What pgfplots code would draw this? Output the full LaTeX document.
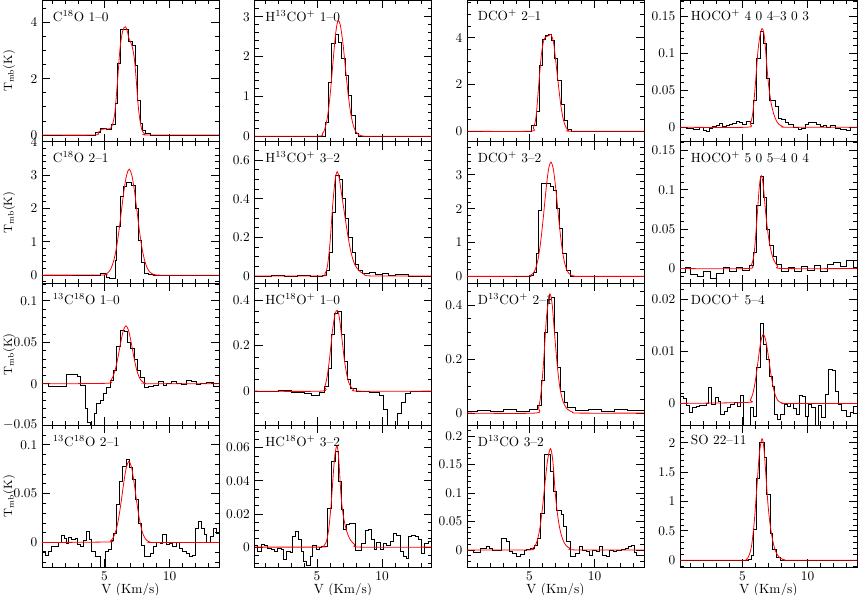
\documentclass[border=0pt]{standalone}
\usepackage{pgfplots}
\pgfplotsset{compat=1.18}
\pgfplotsset{
  panel/.style={width=132.75pt, height=106.3125pt, scale only axis, anchor=south west,
    xmin=0.2, xmax=13.8, xtick={5,10}, minor xtick={1,2,3,4,6,7,8,9,11,12,13},
    xticklabels={}, tick align=inside, major tick length=6pt, minor tick length=3pt,
    every tick/.style={line width=0.6pt, black},
    axis line style={line width=0.7pt},
    scaled y ticks=false, scaled x ticks=false,
    yticklabel style={/pgf/number format/fixed, /pgf/number format/precision=3},
    every axis y label/.style={at={(rel axis cs:-0.125,0.5)}, rotate=90, anchor=south, font=\small},
    xlabel style={yshift=5pt},
  },
  spec/.style={black, line width=0.55pt, const plot mark left, no marks},
  fit/.style={red, line width=0.6pt, smooth, no marks},
  bottom/.style={xticklabels={5,10}, xlabel={V (Km/s)}},
  left/.style={ylabel={T$_{\rm mb}$(K)}},
}
\newcommand{\panel}[5]{%
\begin{axis}[panel, at={(#1)}, #2]
\addplot[spec] coordinates {#4};
\addplot[fit] coordinates {#5};
\node[anchor=north west, inner sep=0pt] at (rel axis cs:0.06,0.93) {#3};
\end{axis}}
\begin{document}
\begin{tikzpicture}
\path[use as bounding box] (0,0) rectangle (643.5pt,446.25pt);
% ---------------- row 1
\panel{31.5pt,339.9375pt}{left, ymin=-0.24, ymax=4.8, ytick={0,2,4}, minor ytick={0.5,1,...,4.5}}{C$^{18}$O 1--0}
{(0.2,0)(4.27,0.1)(4.66,0.23)(5.17,0.2)(5.55,0.38)(5.81,1.12)(5.99,2.55)(6.25,3.76)(6.84,3.32)(7.17,3.2)(7.35,2.49)(7.53,1.24)(7.73,0.4)(7.94,0.17)(8.14,0.05)(8.5,0)(13.8,0)}
{(0.2,0)(4.2,0)(4.5,0.08)(4.8,0.2)(5.1,0.22)(5.4,0.22)(5.6,0.35)(5.8,0.8)(6.0,1.9)(6.2,3.1)(6.4,3.7)(6.6,3.85)(6.75,3.7)(6.9,3.4)(7.1,3.2)(7.3,2.7)(7.45,1.9)(7.6,1.0)(7.75,0.45)(7.9,0.15)(8.1,0.04)(8.4,0)(13.8,0)}
\panel{190.875pt,339.9375pt}{ymin=-0.14, ymax=3.42, ytick={0,1,2,3}, minor ytick={0.2,0.4,...,3.4}}{H$^{13}$CO$^+$ 1--0}
{(0.2,0)(5.62,0.34)(5.87,1.34)(6.13,2.33)(6.39,2.56)(6.64,2.35)(6.9,1.95)(7.15,1.53)(7.41,1.03)(7.66,0.52)(7.92,0.07)(8.17,0)(13.8,0)}
{(0.2,0)(5.0,0)(5.4,0.056)(5.6,0.18)(5.8,0.47)(6.0,1.0)(6.2,1.74)(6.4,2.48)(6.55,2.83)(6.65,2.9)(6.8,2.78)(7.0,2.32)(7.2,1.67)(7.4,1.04)(7.6,0.56)(7.8,0.26)(8.0,0.106)(8.2,0.037)(8.5,0.005)(9,0)(13.8,0)}
\panel{350.25pt,339.9375pt}{ymin=-0.45, ymax=5.62, ytick={0,2,4}, minor ytick={0.5,1,...,5.5}}{DCO$^+$ 2--1}
{(0.2,0)(5.17,0.26)(5.5,0.83)(5.76,2.83)(6.02,3.93)(6.2,4.11)(6.45,4.14)(6.71,3.9)(6.91,3.11)(7.17,2.19)(7.42,1.16)(7.68,0.47)(7.94,0.07)(8.25,0)(13.8,0)}
{(0.2,0)(5.0,0)(5.3,0.15)(5.5,0.6)(5.7,1.9)(5.9,3.2)(6.1,3.9)(6.3,4.05)(6.5,4.1)(6.65,4.15)(6.85,3.8)(7.0,3.1)(7.2,2.1)(7.4,1.15)(7.6,0.5)(7.8,0.17)(8.0,0.04)(8.3,0)(13.8,0)}
\panel{510pt,339.9375pt}{ymin=-0.0196, ymax=0.172, ytick={0,0.05,0.1,0.15}, minor ytick={-0.01,0,...,0.17}}{HOCO$^+$ 4 0 4--3 0 3}
{(0.2,0)(0.71,-0.002)(1.22,-0.003)(1.69,0.0005)(1.99,-0.004)(2.25,-0.005)(2.45,-0.002)(2.71,0.001)(2.97,0.002)(3.22,0.005)(3.48,0.001)(3.74,0.003)(3.99,0.004)(4.25,0.005)(4.5,0.008)(4.76,0.006)(5.02,0.004)(5.32,0.0085)(5.58,0.005)(5.84,0.037)(6.09,0.093)(6.35,0.13)(6.61,0.113)(6.81,0.066)(7.07,0.037)(7.5,0.028)(7.76,0.012)(8.01,0.01)(8.27,0.006)(8.53,0.004)(8.91,-0.0005)(9.3,-0.003)(9.55,-0.001)(9.81,0.004)(10.06,0.007)(10.45,0.007)(10.7,0.004)(10.96,0.001)(11.22,0.002)(11.47,0)(11.73,0.003)(12.11,-0.001)(12.5,-0.003)(13.01,-0.004)(13.27,0)(13.8,0)}
{(0.2,0)(5.3,0)(5.6,0.005)(5.8,0.02)(6.0,0.06)(6.2,0.105)(6.4,0.129)(6.55,0.133)(6.7,0.12)(6.85,0.088)(7.0,0.058)(7.2,0.033)(7.4,0.018)(7.6,0.009)(7.8,0.004)(8.1,0.001)(8.5,0)(13.8,0)}
% ---------------- row 2
\panel{31.5pt,233.625pt}{left, ymin=-0.25, ymax=4.0, ytick={0,1,2,3,4}, minor ytick={-0.2,0,...,4}}{C$^{18}$O 2--1}
{(0.2,0)(4.66,0.04)(5.12,-0.06)(5.38,-0.1)(5.81,0.44)(5.94,1.46)(6.2,2.35)(6.45,2.67)(6.71,2.78)(7.09,2.68)(7.35,2.0)(7.6,1.04)(7.86,0.39)(8.07,0.06)(8.37,0.02)(8.76,0)(13.8,0)}
{(0.2,0)(4.8,0.006)(5.1,0.033)(5.3,0.085)(5.5,0.2)(5.7,0.42)(5.9,0.775)(6.1,1.29)(6.3,1.92)(6.5,2.54)(6.7,3.0)(6.9,3.18)(7.1,3.0)(7.3,2.54)(7.5,1.92)(7.7,1.29)(7.9,0.775)(8.1,0.42)(8.3,0.2)(8.5,0.085)(8.7,0.033)(9.0,0.006)(9.3,0)(13.8,0)}
\panel{190.875pt,233.625pt}{ymin=-0.039, ymax=0.695, ytick={0,0.2,0.4,0.6}, minor ytick={0,0.05,...,0.65}}{H$^{13}$CO$^+$ 3--2}
{(0.2,0)(1.5,0.005)(2.5,-0.003)(3.5,0.004)(4.5,-0.002)(5.4,0.005)(5.7,0.03)(5.95,0.12)(6.2,0.33)(6.45,0.52)(6.7,0.5)(6.95,0.4)(7.2,0.3)(7.45,0.2)(7.7,0.12)(7.95,0.06)(8.2,0.03)(8.5,0.015)(9,0.02)(9.5,0.01)(10,0.015)(10.5,0.005)(11,0.01)(12,0)(13.8,0)}
{(0.2,0)(5.3,0)(5.6,0.01)(5.8,0.05)(6.0,0.17)(6.2,0.36)(6.4,0.5)(6.55,0.54)(6.7,0.51)(6.9,0.42)(7.1,0.33)(7.3,0.24)(7.5,0.16)(7.7,0.1)(7.9,0.06)(8.2,0.03)(8.6,0.01)(9.2,0)(13.8,0)}
\panel{350.25pt,233.625pt}{ymin=-0.21, ymax=3.98, ytick={0,1,2,3}, minor ytick={-0.2,0,...,3.8}}{DCO$^+$ 3--2}
{(0.2,0)(5.04,0.03)(5.3,0.13)(5.5,0.68)(5.68,1.95)(5.89,2.74)(6.58,2.67)(6.84,2.55)(7.04,2.02)(7.3,1.42)(7.55,0.68)(7.81,0.18)(8.12,0)(13.8,0)}
{(0.2,0)(4.75,0.003)(5.05,0.025)(5.25,0.078)(5.45,0.21)(5.65,0.49)(5.85,0.99)(6.05,1.69)(6.25,2.48)(6.45,3.13)(6.65,3.38)(6.85,3.13)(7.05,2.48)(7.25,1.69)(7.45,0.99)(7.65,0.49)(7.85,0.21)(8.05,0.078)(8.25,0.025)(8.55,0.003)(8.8,0)(13.8,0)}
\panel{510pt,233.625pt}{ymin=-0.019, ymax=0.161, ytick={0,0.05,0.1,0.15}, minor ytick={-0.01,0,...,0.16}}{HOCO$^+$ 5 0 5--4 0 4}
{(0.2,-0.005)(0.6,0.002)(1.0,-0.008)(1.5,-0.01)(2.0,-0.003)(2.5,-0.012)(3.0,-0.006)(3.5,0.001)(4.0,-0.004)(4.5,0.002)(5.0,-0.002)(5.5,0.004)(5.85,0.02)(6.1,0.08)(6.35,0.117)(6.6,0.09)(6.85,0.05)(7.1,0.03)(7.35,0.015)(7.6,0.005)(8.0,-0.003)(8.5,0.002)(9.0,-0.004)(9.5,0.003)(10,-0.002)(10.5,0.004)(11,-0.003)(11.5,0.005)(12,0.008)(12.5,0.003)(13,0.01)(13.5,0.002)(13.8,0.002)}
{(0.2,0)(5.4,0)(5.7,0.005)(5.9,0.02)(6.1,0.06)(6.3,0.105)(6.45,0.118)(6.6,0.105)(6.8,0.068)(7.0,0.04)(7.2,0.022)(7.4,0.011)(7.7,0.003)(8.1,0)(13.8,0)}
% ---------------- row 3
\panel{31.5pt,127.3125pt}{left, ymin=-0.05, ymax=0.121, ytick={-0.05,0,0.05,0.1}, minor ytick={-0.04,-0.03,...,0.12}}{$^{13}$C$^{18}$O 1--0}
{(0.2,0.001)(0.69,-0.0036)(2.1,0.011)(2.92,0.009)(3.17,-0.002)(3.5,-0.03)(3.68,-0.046)(3.94,-0.06)(4.2,-0.036)(4.4,-0.024)(4.66,-0.02)(4.91,-0.012)(5.12,-0.004)(5.43,0.0044)(5.68,0.016)(5.94,0.045)(6.25,0.065)(6.5,0.063)(6.76,0.05)(7.02,0.043)(7.27,0.029)(7.53,0.016)(7.78,0.008)(8.04,-0.0044)(8.37,-0.003)(8.76,-0.002)(9.14,0.0024)(9.53,-0.002)(9.78,0)(10.17,0.0024)(10.55,0)(10.94,-0.001)(11.32,0.0044)(11.7,0.0024)(12.09,-0.0004)(12.34,0)(12.86,0.002)(13.37,-0.003)(13.8,-0.003)}
{(0.2,0)(5.15,0.0006)(5.45,0.0034)(5.65,0.0086)(5.85,0.0183)(6.05,0.033)(6.25,0.05)(6.45,0.0644)(6.65,0.07)(6.85,0.0644)(7.05,0.05)(7.25,0.033)(7.45,0.0183)(7.65,0.0086)(7.85,0.0034)(8.15,0.0006)(8.5,0)(13.8,0)}
\panel{190.875pt,127.3125pt}{ymin=-0.15, ymax=0.473, ytick={0,0.2,0.4}, minor ytick={-0.15,-0.1,...,0.45}}{HC$^{18}$O$^+$ 1--0}
{(0.2,0)(1,-0.003)(2,0.002)(3,-0.005)(4,-0.01)(4.6,-0.02)(5.2,-0.005)(5.6,0.02)(5.85,0.1)(6.1,0.25)(6.35,0.34)(6.6,0.35)(6.85,0.25)(7.1,0.13)(7.35,0.05)(7.6,0.01)(8,0)(9,-0.005)(9.8,-0.02)(10.1,-0.08)(10.4,-0.17)(11.2,-0.1)(11.5,-0.05)(11.8,-0.01)(12.2,0)(13.8,0)}
{(0.2,0)(5.3,0)(5.6,0.02)(5.8,0.07)(6.0,0.16)(6.2,0.27)(6.4,0.34)(6.55,0.355)(6.7,0.33)(6.9,0.24)(7.1,0.14)(7.3,0.07)(7.5,0.03)(7.8,0.008)(8.2,0)(13.8,0)}
\panel{350.25pt,127.3125pt}{ymin=-0.045, ymax=0.48, ytick={0,0.2,0.4}, minor ytick={0,0.05,...,0.45}}{D$^{13}$CO$^+$ 2--1}
{(0.2,0.005)(1,0.01)(2,0.005)(3,0.012)(4,0.008)(5,0.015)(5.6,0.03)(5.9,0.12)(6.15,0.3)(6.4,0.42)(6.65,0.43)(6.9,0.3)(7.15,0.17)(7.4,0.08)(7.65,0.04)(7.9,0.02)(8.5,0.01)(9.5,0.012)(10.5,0.008)(11.5,0.015)(12.5,0.01)(13.8,0.01)}
{(0.2,0)(5.4,0)(5.7,0.02)(5.9,0.08)(6.1,0.2)(6.3,0.35)(6.5,0.43)(6.6,0.44)(6.75,0.4)(6.95,0.28)(7.15,0.17)(7.35,0.09)(7.6,0.04)(7.9,0.015)(8.3,0.004)(8.8,0)(13.8,0)}
\panel{510pt,127.3125pt}{ymin=-0.0042, ymax=0.0231, ytick={0,0.01,0.02}, minor ytick={-0.002,0,...,0.022}}{DOCO$^+$ 5--4}
{(0.2,0.0014)(0.46,0.0009)(0.66,-0.0004)(0.92,-0.0017)(1.17,-0.0008)(1.43,-0.0006)(1.69,-0.0004)(2.2,0.0001)(2.38,0.003)(2.63,-0.0002)(2.89,0.0011)(3.15,0.0004)(3.33,-0.0021)(3.58,-0.0015)(3.84,-0.0008)(4.09,-0.0002)(4.35,0.0003)(4.61,-0.0005)(4.81,0.0015)(5.07,-0.006)(5.58,-0.0008)(5.84,-0.0024)(6.09,0.007)(6.35,0.0155)(6.61,0.0113)(6.81,0.0084)(7.07,0.0052)(7.27,0.0033)(7.48,-0.0021)(7.68,-0.003)(7.94,-0.0021)(8.19,-0.0002)(8.45,-0.0005)(8.65,0.0001)(8.91,-0.001)(9.17,-0.0021)(9.37,0.0015)(9.63,0.0013)(9.81,-0.0024)(10.06,-0.0002)(10.32,-0.0008)(10.58,-0.005)(10.83,-0.0004)(11.09,-0.0027)(11.35,0.0017)(11.6,0.0065)(11.93,0.0064)(12.14,0.0024)(12.4,-0.0002)(12.63,-0.0013)(13.01,-0.0024)(13.27,-0.0018)(13.52,-0.0005)(13.8,-0.0005)}
{(0.2,0)(5.4,0.0002)(5.6,0.00064)(5.8,0.0019)(6.0,0.0045)(6.2,0.0082)(6.4,0.0118)(6.6,0.0133)(6.8,0.012)(7.0,0.0089)(7.2,0.0054)(7.4,0.0027)(7.6,0.0011)(7.8,0.00036)(8.1,0.00005)(8.4,0)(13.8,0)}
% ---------------- row 4
\panel{31.5pt,21pt}{left, bottom, ymin=-0.025, ymax=0.12, ytick={0,0.05,0.1}, minor ytick={-0.02,-0.01,...,0.12}}{$^{13}$C$^{18}$O 2--1}
{(0.2,-0.0093)(0.43,-0.0127)(0.69,-0.0093)(0.94,-0.0034)(1.46,0)(1.66,0.0069)(1.92,0.0045)(2.1,-0.0007)(2.22,0.0055)(2.48,0.0034)(2.74,0.0045)(2.92,-0.0014)(3.12,-0.004)(3.38,0.0027)(3.63,0.0113)(3.84,0.0034)(4.02,-0.009)(4.27,-0.0144)(4.66,-0.04)(5.04,-0.009)(5.3,-0.0069)(5.55,0.0027)(5.68,0.0096)(5.89,0.0388)(6.14,0.0629)(6.4,0.078)(6.66,0.0852)(6.91,0.0766)(7.17,0.0646)(7.35,0.044)(7.6,0.0199)(7.86,-0.0024)(8.04,-0.0144)(8.5,-0.011)(8.76,-0.0034)(9.01,0)(9.27,-0.0007)(9.47,0.0079)(9.73,-0.0014)(9.99,-0.0007)(10.24,-0.0034)(10.5,0)(10.76,-0.0058)(11.01,-0.0093)(11.27,-0.011)(11.52,-0.0144)(11.78,-0.0127)(11.96,0.0148)(12.22,0.0216)(12.47,0.0148)(12.65,0.0079)(12.86,0)(13.11,0.0062)(13.37,0.0148)(13.63,0.0096)(13.8,0.0096)}
{(0.2,0)(5.28,0.0006)(5.48,0.0019)(5.68,0.0052)(5.88,0.0121)(6.08,0.0242)(6.28,0.0415)(6.48,0.061)(6.68,0.0769)(6.88,0.083)(7.08,0.0769)(7.28,0.061)(7.48,0.0415)(7.68,0.0242)(7.88,0.0121)(8.08,0.0052)(8.28,0.0019)(8.48,0.0006)(8.8,0)(13.8,0)}
\panel{190.875pt,21pt}{bottom, ymin=-0.012, ymax=0.0735, ytick={0,0.02,0.04,0.06}, minor ytick={-0.01,-0.005,...,0.07}}{HC$^{18}$O$^+$ 3--2}
{(0.2,0.0008)(0.44,-0.0026)(0.7,0.0014)(0.96,0.0008)(1.21,-0.0006)(1.47,-0.0012)(1.72,-0.0026)(1.98,-0.0006)(2.24,-0.0016)(2.42,-0.0077)(2.67,-0.0026)(2.93,-0.0032)(3.11,0.0065)(3.36,0.0095)(3.57,0.0044)(3.77,-0.0026)(3.95,-0.0087)(4.21,-0.0113)(4.46,-0.0053)(4.67,0.0008)(4.93,-0.0012)(5.18,0)(5.36,0.0004)(5.62,0.0004)(5.82,0.0236)(6.08,0.052)(6.39,0.0576)(6.64,0.0398)(6.85,0.023)(7.05,0.0105)(7.26,0.0135)(7.51,0.0141)(7.92,-0.0022)(8.23,-0.0022)(8.44,0.0024)(8.69,0.0101)(8.95,0.0105)(9.16,0.0044)(9.41,-0.0016)(9.59,0.0028)(9.85,-0.0016)(10.1,0.0024)(10.36,0.0008)(10.61,0.0034)(10.87,0.0085)(11.13,0.0069)(11.38,-0.0026)(11.64,-0.0057)(11.9,-0.0067)(12.02,0.0065)(12.28,0.0069)(12.54,0.0065)(12.79,0.0044)(13.0,-0.004)(13.25,0.002)(13.56,0.0034)(13.8,0.0034)}
{(0.2,0)(5.3,0)(5.5,0.0005)(5.7,0.0029)(5.8,0.0058)(5.9,0.0106)(6.0,0.018)(6.1,0.027)(6.2,0.038)(6.3,0.049)(6.4,0.057)(6.52,0.061)(6.6,0.059)(6.7,0.05)(6.85,0.031)(7.0,0.02)(7.2,0.012)(7.4,0.007)(7.6,0.004)(7.9,0.0015)(8.3,0)(13.8,0)}
\panel{350.25pt,21pt}{bottom, ymin=-0.03, ymax=0.219, ytick={0,0.05,0.1,0.15,0.2}, minor ytick={-0.02,-0.01,...,0.21}}{D$^{13}$CO 3--2}
{(0.2,0)(0.69,-0.0047)(1.2,0.003)(1.66,0.0059)(1.92,0.0035)(2.17,0)(2.48,-0.0012)(2.86,0.0206)(3.2,0.0147)(3.45,-0.003)(3.71,-0.0059)(4.02,-0.0106)(4.32,-0.007)(4.58,0)(4.79,0.0012)(5.04,0.003)(5.35,0.0088)(5.61,0.0206)(5.86,0.0647)(6.12,0.168)(6.58,0.138)(6.84,0.103)(7.09,0.069)(7.43,0.062)(7.6,0.041)(7.86,0.0147)(8.12,-0.0118)(8.5,-0.0059)(8.83,0.0059)(9.09,0)(9.35,-0.003)(9.6,-0.0088)(9.86,0)(10.12,-0.003)(10.37,0.007)(10.63,-0.0088)(10.88,-0.0106)(11.14,0)(11.45,-0.003)(11.7,-0.0012)(12.09,0.0012)(12.34,0.003)(12.6,0.007)(12.86,0.0088)(13.04,-0.0047)(13.24,-0.0088)(13.5,-0.0088)(13.8,-0.0088)}
{(0.2,0)(4.9,0)(5.2,0.0018)(5.4,0.006)(5.6,0.0165)(5.8,0.038)(6.0,0.074)(6.2,0.119)(6.4,0.159)(6.62,0.178)(6.8,0.155)(7.0,0.095)(7.2,0.055)(7.4,0.03)(7.6,0.016)(7.8,0.008)(8.1,0.003)(8.5,0)(13.8,0)}
\panel{510pt,21pt}{bottom, ymin=-0.115, ymax=2.3, ytick={0,0.5,1,1.5,2}, minor ytick={-0.1,0,...,2.2}}{SO 22--11}
{(0.2,0)(5.45,0.017)(5.66,0.09)(5.84,0.52)(6.04,1.4)(6.3,2.01)(6.66,1.76)(6.86,1.12)(7.12,0.46)(7.32,0.18)(7.58,0.05)(7.89,0)(13.8,0)}
{(0.2,0)(5.0,0)(5.3,0.018)(5.5,0.078)(5.7,0.25)(5.9,0.64)(6.1,1.22)(6.3,1.82)(6.5,2.07)(6.65,1.9)(6.8,1.45)(6.95,0.98)(7.1,0.65)(7.3,0.36)(7.5,0.18)(7.7,0.085)(7.9,0.035)(8.2,0.01)(8.6,0)(13.8,0)}
\end{tikzpicture}
\end{document}
